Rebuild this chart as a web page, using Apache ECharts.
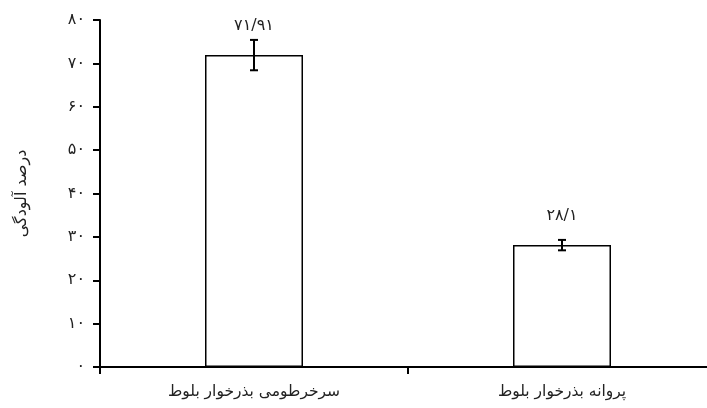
<!DOCTYPE html>
<html>
<head>
<meta charset="utf-8">
<script src="https://cdn.jsdelivr.net/npm/echarts@6/dist/echarts.min.js"></script>
<style>
  html, body { margin: 0; padding: 0; background: #fff; }
  #chart { width: 707px; height: 408px; }
</style>
</head>
<body>
<div id="chart"></div>
<script>
// داده‌ها
var categories = ['سرخرطومی بذرخوار بلوط', 'پروانه بذرخوار بلوط'];
var values = [71.91, 28.1];
var errors = [3.5, 1.2];
var valueLabels = ['۷۱/۹۱', '۲۸/۱'];
var yTickLabels = ['۰', '۱۰', '۲۰', '۳۰', '۴۰', '۵۰', '۶۰', '۷۰', '۸۰'];

var font = 'DejaVu Sans';
var myChart = echarts.init(document.getElementById('chart'));

var option = {
  backgroundColor: '#fff',
  animation: false,
  grid: { left: 100, width: 616, top: 20, bottom: 41, outerBoundsMode: 'none', containLabel: false },
  xAxis: {
    type: 'category',
    data: categories,
    axisLine: { lineStyle: { color: '#000', width: 2 } },
    axisTick: { show: true, length: 7, lineStyle: { color: '#000', width: 2 } },
    axisLabel: { color: '#222', fontSize: 15.5, fontFamily: font, margin: 17 }
  },
  yAxis: {
    type: 'value',
    min: 0,
    max: 80,
    interval: 10,
    name: 'درصد آلودگی',
    nameLocation: 'middle',
    nameGap: 70,
    nameTextStyle: { color: '#222', fontSize: 16, fontFamily: font },
    splitLine: { show: false },
    axisLine: { show: true, lineStyle: { color: '#000', width: 2 } },
    axisTick: { show: true, length: 7, lineStyle: { color: '#000', width: 2 } },
    axisLabel: {
      color: '#222', fontSize: 16, fontFamily: font, margin: 15,
      formatter: function (v) { return yTickLabels[Math.round(v / 10)]; }
    }
  },
  series: [
    {
      type: 'bar',
      barWidth: 98,
      data: values,
      itemStyle: { color: '#fff', borderColor: '#000', borderWidth: 1.5 },
      label: {
        show: true,
        position: 'top',
        distance: 21,
        color: '#222',
        fontSize: 16,
        fontFamily: font,
        formatter: function (p) { return valueLabels[p.dataIndex]; }
      }
    },
    {
      type: 'custom',
      data: values.map(function (v, i) { return [i, v - errors[i], v + errors[i]]; }),
      renderItem: function (params, api) {
        var lo = api.coord([api.value(0), api.value(1)]);
        var hi = api.coord([api.value(0), api.value(2)]);
        var cap = 4;
        var style = { stroke: '#000', lineWidth: 2 };
        return {
          type: 'group',
          children: [
            { type: 'line', shape: { x1: lo[0], y1: lo[1], x2: hi[0], y2: hi[1] }, style: style },
            { type: 'line', shape: { x1: lo[0] - cap, y1: lo[1], x2: lo[0] + cap, y2: lo[1] }, style: style },
            { type: 'line', shape: { x1: hi[0] - cap, y1: hi[1], x2: hi[0] + cap, y2: hi[1] }, style: style }
          ]
        };
      },
      z: 5
    }
  ]
};

myChart.setOption(option);
</script>
</body>
</html>
